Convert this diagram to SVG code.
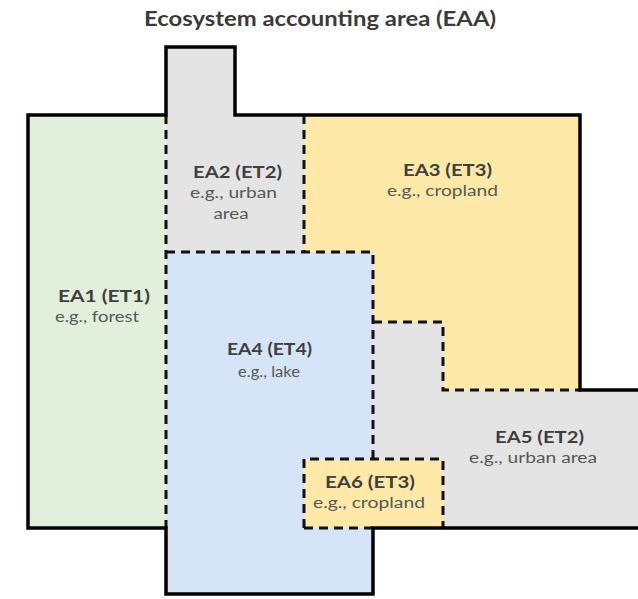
<svg xmlns="http://www.w3.org/2000/svg" width="638" height="599" viewBox="0 0 638 599">
<style>
.t{font-family:Lato,"Open Sans","Liberation Sans",sans-serif;text-anchor:middle}
.h{font-size:17px;font-weight:bold;fill:#3f3f3f}
.s{font-size:15.5px;fill:#575757}
.d{fill:none;stroke:#111;stroke-width:3;stroke-dasharray:9 6}
.o{fill:none;stroke:#000;stroke-width:3.5;stroke-linejoin:miter}
</style>
<rect width="638" height="599" fill="#ffffff"/>
<text class="t" x="320" y="26" textLength="352" lengthAdjust="spacingAndGlyphs" style="font-size:20px;font-weight:bold;fill:#3a3a3a">Ecosystem accounting area (EAA)</text>
<g id="EA1">
<rect x="28" y="115" width="138" height="413" fill="#e2efda"/>
<text class="t h" x="104" y="302" textLength="92" lengthAdjust="spacingAndGlyphs">EA1 (ET1)</text>
<text class="t s" x="97" y="322" textLength="84" lengthAdjust="spacingAndGlyphs">e.g., forest</text>
</g>
<g id="EA2">
<path d="M166,47 H235 V115 H304 V252 H166 Z" fill="#e4e4e4"/>
<text class="t h" x="237.5" y="178" textLength="89" lengthAdjust="spacingAndGlyphs">EA2 (ET2)</text>
<text class="t s" x="233.5" y="198" textLength="87" lengthAdjust="spacingAndGlyphs">e.g., urban</text>
<text class="t s" x="231" y="219" textLength="35" lengthAdjust="spacingAndGlyphs">area</text>
</g>
<g id="EA3">
<path d="M304,115 H580 V390 H443 V322 H373 V252 H304 Z" fill="#fee9a8"/>
<text class="t h" x="447.5" y="176" textLength="89" lengthAdjust="spacingAndGlyphs">EA3 (ET3)</text>
<text class="t s" x="442.5" y="196" textLength="111" lengthAdjust="spacingAndGlyphs">e.g., cropland</text>
</g>
<g id="EA4">
<path d="M166,252 H373 V459 H304 V528 H373 V594 H166 Z" fill="#d6e4f8"/>
<text class="t h" x="269.5" y="355" textLength="85" lengthAdjust="spacingAndGlyphs">EA4 (ET4)</text>
<text class="t s" x="269" y="377" textLength="62" lengthAdjust="spacingAndGlyphs">e.g., lake</text>
</g>
<g id="EA5">
<path d="M373,322 H443 V390 H638 V528 H443 V459 H373 Z" fill="#e4e4e4"/>
<text class="t h" x="539.5" y="443" textLength="89" lengthAdjust="spacingAndGlyphs">EA5 (ET2)</text>
<text class="t s" x="533" y="463" textLength="128" lengthAdjust="spacingAndGlyphs">e.g., urban area</text>
</g>
<g id="EA6">
<rect x="304" y="459" width="139" height="69" fill="#fee9a8"/>
<text class="t h" x="370" y="488" textLength="90" lengthAdjust="spacingAndGlyphs">EA6 (ET3)</text>
<text class="t s" x="369" y="508" textLength="112" lengthAdjust="spacingAndGlyphs">e.g., cropland</text>
</g>
<g id="connectors">
<path class="d" d="M166,115 V528"/>
<path class="d" d="M304,115 V252"/>
<path class="d" d="M166,252 H373 V459"/>
<path class="d" d="M373,322 H443 V390 H580"/>
<path class="d" d="M304,528 V459 H443 V528"/>
<path class="d" d="M304,528 H373"/>
<path class="o" d="M638,390 H580 V115 H235 V47 H166 V115 H28 V528 H166 V594 H373 V528 H638"/>
</g>
</svg>
